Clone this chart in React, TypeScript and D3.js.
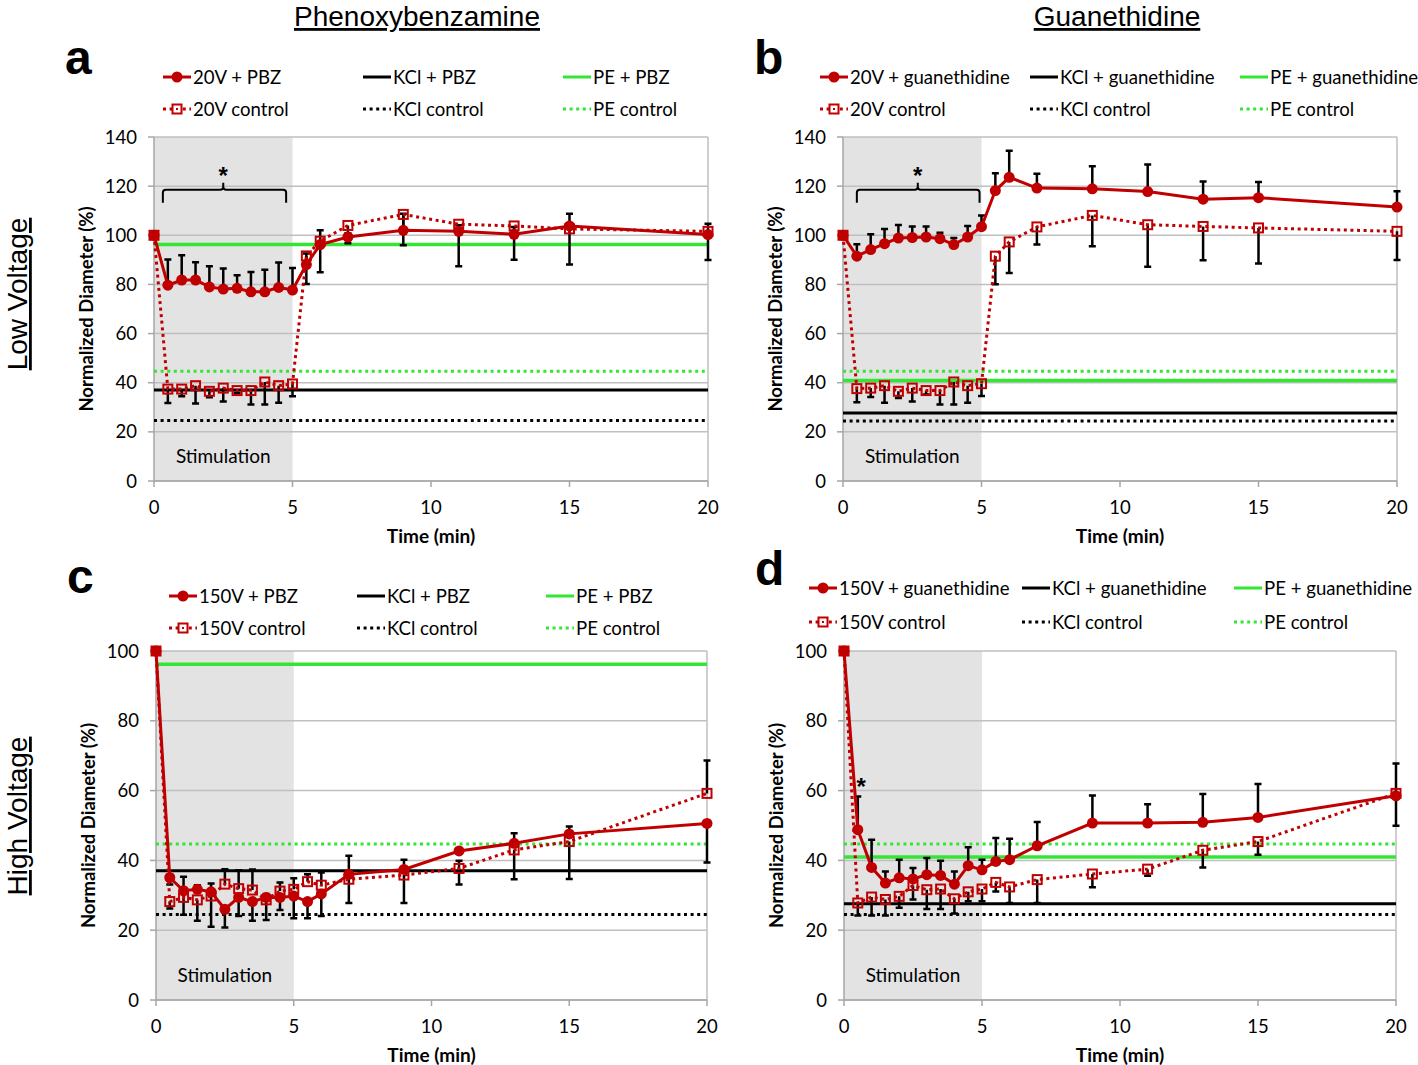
import * as d3 from "d3";

// time points (min)
const times = [0, 0.5, 1, 1.5, 2, 2.5, 3, 3.5, 4, 4.5, 5, 5.5, 6, 7, 9, 11, 13, 15, 20];
const zeros = times.map(() => 0);

// panel a : 20V + PBZ
const aTreat = [100, 79.7, 81.8, 81.8, 79, 78.1, 78.4, 77, 77, 78.8, 77.7, 88.1, 96.2, 99.3, 102, 101.6, 100.4, 103.8, 100.3];
const aTreatUp = [0, 10.4, 10.1, 7.2, 8.4, 8.4, 5.3, 8.1, 9, 10.1, 9, 4.5, 5.8, 1.5, 6.8, 2.5, 3, 5, 4.4];
const aCtrl = [100, 37.4, 37.4, 38.8, 36.5, 37.8, 36.8, 36.8, 40.3, 38.8, 39.5, 91.6, 97.6, 104, 108.5, 104.5, 103.8, 102.6, 101.6];
const aCtrlDn = [0, 5.7, 2.9, 7.3, 2.4, 5.4, 1, 5.7, 9.2, 7, 5, 11.4, 12.6, 7.2, 12.6, 17.1, 13.8, 14.5, 11.7];
const aRefs = [37, 24.6, 96.2, 44.7]; // KCl+drug, KCl control, PE+drug, PE control

// panel b : 20V + guanethidine
const bTreat = [100, 91.5, 94.2, 96.6, 98.9, 99.1, 99.3, 98.6, 96.2, 99.3, 103.5, 118.2, 123.6, 119.2, 118.9, 117.8, 114.7, 115.3, 111.5];
const bTreatUp = [0, 4.9, 6.2, 6, 5.3, 4.5, 4.3, 2.4, 2.7, 4.5, 4.6, 7, 10.8, 5.8, 9.2, 11, 7.2, 6.4, 6.4];
const bCtrl = [100, 37.6, 37.8, 38.8, 36.5, 37.8, 36.8, 36.8, 40.3, 38.8, 39.6, 91.5, 97.3, 103.4, 108.1, 104.3, 103.6, 103, 101.6];
const bCtrlDn = [0, 5.5, 3.6, 7, 2.7, 5.4, 1.6, 5.7, 9.2, 7, 5, 11.4, 12.6, 7.2, 12.6, 17.1, 13.8, 14.5, 11.7];
const bRefs = [27.7, 24.4, 40.9, 44.7];

// panel c : 150V + PBZ
const cTreat = [100, 35.1, 31.3, 31.7, 31, 26, 29.4, 28.2, 29.4, 29.4, 29.8, 28.2, 30.4, 36, 37.4, 42.7, 44.9, 47.6, 50.6];
const cTreatUp = [0, 0, 4, 1.2, 2.4, 0, 0, 0, 1, 0, 0, 0, 0, 5.3, 2.8, 0, 2.9, 2.1, 0];
const cTreatDn = [0, 2, 0, 0, 0, 5.2, 5.3, 5.5, 0, 3.6, 6.4, 4.8, 6.3, 0, 0, 0, 0, 0, 11.2];
const cCtrl = [100, 28.2, 29.4, 28.7, 29.8, 33.2, 31.9, 31.5, 28.7, 31.2, 31.7, 33.9, 32.9, 34.6, 35.8, 37.7, 43, 45.4, 59.2];
const cCtrlUp = [0, 0, 0, 0, 0, 4.3, 5.3, 5.9, 0, 2.5, 3.2, 2.1, 3.6, 0, 0, 2.2, 0, 0, 9.4];
const cCtrlDn = [0, 2, 5, 6, 8.8, 0, 0, 0, 5.8, 0, 0, 0, 0, 6.8, 8, 4.6, 8.4, 10.7, 0];
const cRefs = [37, 24.5, 96.2, 44.7];

// panel d : 150V + guanethidine
const dTreat = [100, 48.8, 38, 33.5, 35, 34.7, 35.9, 35.7, 33.2, 38.5, 37.3, 39.7, 40.2, 44.2, 50.7, 50.7, 50.9, 52.3, 58.5];
const dTreatUp = [0, 9.5, 7.9, 3.3, 5.2, 3.1, 4.8, 4.2, 3.6, 5.3, 2.9, 6.7, 6, 6.8, 7.9, 5.4, 8.1, 9.6, 9.3];
const dCtrl = [100, 27.8, 29.5, 28.8, 29.7, 32.8, 31.6, 31.8, 29, 31, 31.8, 33.7, 32.4, 34.5, 36.1, 37.5, 42.9, 45.4, 59.2];
const dCtrlDn = [0, 3.6, 5.3, 4.6, 3.3, 4, 5.5, 5.7, 4.2, 2.7, 3.5, 2.6, 4.6, 6.7, 3.8, 1.9, 4.9, 3.8, 9.3];
const dRefs = [27.6, 24.5, 41, 44.7];

const xTicks = [0, 5, 10, 15, 20];

const RED = "#c00000";
const GREEN = "#33e633";
const GRID = "#bfbfbf";
const FONT = "Lato, 'Open Sans', sans-serif";
const ARIAL = "'Liberation Sans', Arial, sans-serif";

type Cfg = {
  letter: string;
  x0: number;
  x1: number;
  yTop: number;
  yBot: number;
  yMax: number;
  legY: [number, number];
  legX: [number, number, number];
  labels: string[];
  treat: number[];
  treatUp: number[];
  treatDn: number[];
  ctrl: number[];
  ctrlUp: number[];
  ctrlDn: number[];
  refs: number[];
  bracket?: [number, number, number];
  star?: [number, number];
};

const panels: Cfg[] = [
  {
    letter: "a", x0: 154, x1: 708, yTop: 137, yBot: 481, yMax: 140,
    legY: [77, 109], legX: [163, 363, 563],
    labels: ["20V + PBZ", "20V control", "KCl + PBZ", "KCl control", "PE + PBZ", "PE control"],
    treat: aTreat, treatUp: aTreatUp, treatDn: zeros, ctrl: aCtrl, ctrlUp: zeros, ctrlDn: aCtrlDn,
    refs: aRefs, bracket: [0.32, 4.77, 2.5],
  },
  {
    letter: "b", x0: 843, x1: 1397, yTop: 137, yBot: 481, yMax: 140,
    legY: [77, 109], legX: [820, 1030, 1240],
    labels: ["20V + guanethidine", "20V control", "KCl + guanethidine", "KCl control", "PE + guanethidine", "PE control"],
    treat: bTreat, treatUp: bTreatUp, treatDn: zeros, ctrl: bCtrl, ctrlUp: zeros, ctrlDn: bCtrlDn,
    refs: bRefs, bracket: [0.5, 4.93, 2.7],
  },
  {
    letter: "c", x0: 156, x1: 707, yTop: 651, yBot: 1000, yMax: 100,
    legY: [596, 628], legX: [169, 357, 546],
    labels: ["150V + PBZ", "150V control", "KCl + PBZ", "KCl control", "PE + PBZ", "PE control"],
    treat: cTreat, treatUp: cTreatUp, treatDn: cTreatDn, ctrl: cCtrl, ctrlUp: cCtrlUp, ctrlDn: cCtrlDn,
    refs: cRefs,
  },
  {
    letter: "d", x0: 844, x1: 1396, yTop: 651, yBot: 1000, yMax: 100,
    legY: [588, 622], legX: [809, 1022, 1234],
    labels: ["150V + guanethidine", "150V control", "KCl + guanethidine", "KCl control", "PE + guanethidine", "PE control"],
    treat: dTreat, treatUp: dTreatUp, treatDn: zeros, ctrl: dCtrl, ctrlUp: zeros, ctrlDn: dCtrlDn,
    refs: dRefs, star: [0.62, 62.2],
  },
];

const DOT = "3 3.6";

function LegendSym({ x, y, kind }: { x: number; y: number; kind: number }) {
  const w = 28;
  if (kind === 0)
    return (
      <g>
        <line x1={x} x2={x + w} y1={y} y2={y} stroke={RED} strokeWidth={3} />
        <circle cx={x + w / 2} cy={y} r={5.5} fill={RED} />
      </g>
    );
  if (kind === 1)
    return (
      <g>
        <line x1={x} x2={x + w} y1={y} y2={y} stroke={RED} strokeWidth={3} strokeDasharray={DOT} />
        <rect x={x + w / 2 - 4.5} y={y - 4.5} width={9} height={9} fill="white" stroke={RED} strokeWidth={2} />
        <rect x={x + w / 2 - 1} y={y - 1} width={2} height={2} fill={RED} />
      </g>
    );
  const color = kind < 4 ? "#000" : GREEN;
  const dotted = kind % 2 === 1;
  return (
    <line x1={x} x2={x + w} y1={y} y2={y} stroke={color} strokeWidth={3}
      strokeDasharray={dotted ? DOT : undefined} />
  );
}

function Panel({ c }: { c: Cfg }) {
  const x = d3.scaleLinear().domain([0, 20]).range([c.x0, c.x1]);
  const y = d3.scaleLinear().domain([0, c.yMax]).range([c.yBot, c.yTop]);
  const yTicks = d3.range(0, c.yMax + 1, 20);
  const line = d3.line<number>().x((_, i) => x(times[i])).y((d) => y(d));
  const refStyle = [
    { color: "#000", dotted: false },
    { color: "#000", dotted: true },
    { color: GREEN, dotted: false },
    { color: GREEN, dotted: true },
  ];

  const bars = (vals: number[], up: number[], dn: number[]) =>
    vals.map((v, i) => {
      const xi = x(times[i]);
      const out = [];
      if (up[i] > 0) {
        const yy = y(v + up[i]);
        out.push(<path key={"u" + i} d={`M${xi},${y(v)}V${yy}M${xi - 3.5},${yy}H${xi + 3.5}`} />);
      }
      if (dn[i] > 0) {
        const yy = y(v - dn[i]);
        out.push(<path key={"d" + i} d={`M${xi},${y(v)}V${yy}M${xi - 3.5},${yy}H${xi + 3.5}`} />);
      }
      return out;
    });

  const midY = (c.yTop + c.yBot) / 2;
  const legendOrder = [0, 1, 2, 3, 4, 5];

  return (
    <g>
      <text x={c.x0 - 89} y={c.legY[0] - 3} fontFamily={ARIAL} fontWeight="bold" fontSize={48}>
        {c.letter}
      </text>
      {legendOrder.map((k) => {
        const col = Math.floor(k / 2);
        const row = k % 2;
        const lx = c.legX[col];
        const ly = c.legY[row];
        return (
          <g key={k}>
            <LegendSym x={lx} y={ly} kind={k} />
            <text x={lx + 30} y={ly + 6.5} fontFamily={FONT} fontSize={18.6}>
              {c.labels[k]}
            </text>
          </g>
        );
      })}

      {/* stimulation period */}
      <rect x={x(0)} y={c.yTop} width={x(5) - x(0)} height={c.yBot - c.yTop} fill="#e3e3e3" />

      {/* grid */}
      {yTicks.map((t) => (
        <line key={t} x1={c.x0} x2={c.x1} y1={y(t)} y2={y(t)} stroke={GRID} strokeWidth={1.5} />
      ))}
      <line x1={c.x1} x2={c.x1} y1={c.yTop} y2={c.yBot} stroke={GRID} strokeWidth={1.5} />

      {/* axes */}
      <line x1={c.x0} x2={c.x0} y1={c.yTop} y2={c.yBot} stroke="#a6a6a6" strokeWidth={1.5} />
      <line x1={c.x0} x2={c.x1} y1={c.yBot} y2={c.yBot} stroke="#a6a6a6" strokeWidth={1.5} />
      {yTicks.map((t) => (
        <g key={t}>
          <line x1={c.x0 - 6} x2={c.x0} y1={y(t)} y2={y(t)} stroke="#a6a6a6" strokeWidth={1.5} />
          <text x={c.x0 - 17} y={y(t) + 6.5} textAnchor="end" fontFamily={FONT} fontSize={18.5}>
            {t}
          </text>
        </g>
      ))}
      {xTicks.map((t) => (
        <g key={t}>
          <line x1={x(t)} x2={x(t)} y1={c.yBot} y2={c.yBot + 6} stroke="#a6a6a6" strokeWidth={1.5} />
          <text x={x(t)} y={c.yBot + 33} textAnchor="middle" fontFamily={FONT} fontSize={18.5}>
            {t}
          </text>
        </g>
      ))}
      <text x={(c.x0 + c.x1) / 2} y={c.yBot + 62} textAnchor="middle" fontFamily={FONT}
        fontWeight="bold" fontSize={19}>
        Time (min)
      </text>
      <text transform={`translate(${c.x0 - 61},${midY}) rotate(-90)`} textAnchor="middle"
        fontFamily={FONT} fontWeight="bold" fontSize={18.5}>
        Normalized Diameter (%)
      </text>

      <text x={x(2.5)} y={c.yBot - 18} textAnchor="middle" fontFamily={FONT} fontSize={19}>
        Stimulation
      </text>

      {/* reference lines */}
      {c.refs.map((v, i) => (
        <line key={i} x1={x(0)} x2={x(20)} y1={y(v)} y2={y(v)} stroke={refStyle[i].color}
          strokeWidth={i === 2 ? 3.5 : 3} strokeDasharray={refStyle[i].dotted ? DOT : undefined} />
      ))}

      {/* error bars */}
      <g stroke="#000" strokeWidth={2.5} fill="none">
        {bars(c.ctrl, c.ctrlUp, c.ctrlDn)}
        {bars(c.treat, c.treatUp, c.treatDn)}
      </g>

      {/* series */}
      <path d={line(c.ctrl) ?? ""} fill="none" stroke={RED} strokeWidth={3} strokeDasharray={DOT} />
      {c.ctrl.map((v, i) => (
        <rect key={i} x={x(times[i]) - 4.5} y={y(v) - 4.5} width={9} height={9} fill="none"
          stroke={RED} strokeWidth={2} />
      ))}
      <path d={line(c.treat) ?? ""} fill="none" stroke={RED} strokeWidth={3} />
      {c.treat.map((v, i) => (
        <circle key={i} cx={x(times[i])} cy={y(v)} r={5.5} fill={RED} />
      ))}

      {/* significance marks */}
      {c.bracket && (() => {
        const [l, r, m] = c.bracket;
        const y0 = y(114.9);
        const y1 = y(118.5);
        const xl = x(l);
        const xr = x(r);
        const xm = x(m);
        return (
          <g>
            <path
              d={`M${xl},${y0 + 4}V${y1 + 3}Q${xl},${y1} ${xl + 3},${y1}H${xm - 3}Q${xm},${y1} ${xm},${y1 - 3}V${y1 - 7}M${xm},${y1 - 3}Q${xm},${y1} ${xm + 3},${y1}H${xr - 3}Q${xr},${y1} ${xr},${y1 + 3}V${y0 + 4}`}
              fill="none" stroke="#000" strokeWidth={2} />
            <text x={xm} y={y(125.7) + 12} textAnchor="middle" fontFamily={ARIAL} fontWeight="bold"
              fontSize={24}>
              *
            </text>
          </g>
        );
      })()}
      {c.star && (
        <text x={x(c.star[0])} y={y(c.star[1]) + 12} textAnchor="middle" fontFamily={ARIAL}
          fontWeight="bold" fontSize={24}>
          *
        </text>
      )}
    </g>
  );
}

export default function App() {
  return (
    <svg width={1418} height={1065} style={{ position: "absolute", left: 0, top: 0, background: "#fff" }}>
      <rect width={1418} height={1065} fill="#fff" />
      <text x={417} y={26} textAnchor="middle" fontFamily={ARIAL} fontSize={28} textDecoration="underline">
        Phenoxybenzamine
      </text>
      <text x={1117} y={26} textAnchor="middle" fontFamily={ARIAL} fontSize={28} textDecoration="underline">
        Guanethidine
      </text>
      <text transform="translate(27,294) rotate(-90)" textAnchor="middle" fontFamily={ARIAL} fontSize={28}
        textDecoration="underline">
        Low Voltage
      </text>
      <text transform="translate(27,816) rotate(-90)" textAnchor="middle" fontFamily={ARIAL} fontSize={28}
        textDecoration="underline">
        High Voltage
      </text>
      {panels.map((p) => (
        <Panel key={p.letter} c={p} />
      ))}
    </svg>
  );
}
